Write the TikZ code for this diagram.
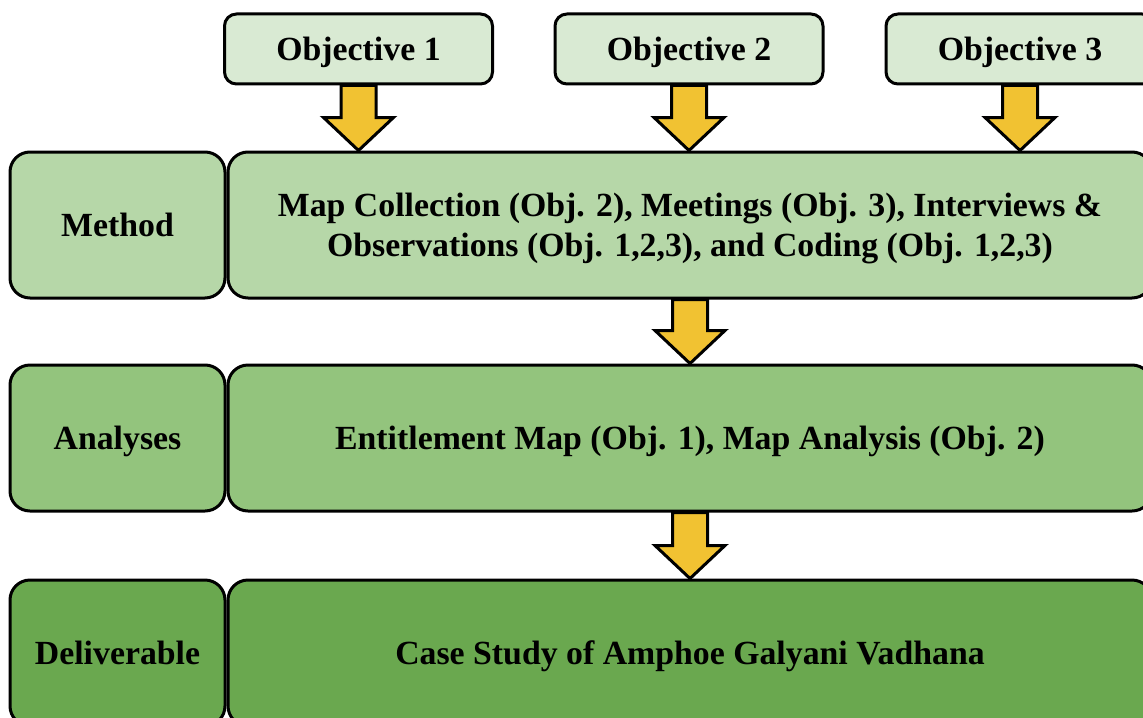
\documentclass[tikz,border=0pt]{standalone}
\usepackage{fontspec}
\setmainfont{Liberation Serif}
\usetikzlibrary{calc,backgrounds}

\definecolor{objgreen}{HTML}{D9EAD3}
\definecolor{methgreen}{HTML}{B6D7A8}
\definecolor{anagreen}{HTML}{93C47D}
\definecolor{delgreen}{HTML}{6AA84F}
\definecolor{arrowyellow}{HTML}{F1C232}

% fat yellow arrow from the bottom of #1 down to the top of #2
\newcommand{\blockarrow}[2]{%
\coordinate (tip) at (#1.south |- #2.north);
\draw[yarrow] ($(#1.south)+(-17.5,0)$) -- ($(tip)+(-17.5,-33)$) -- ++(-17.5,0) -- (tip)
  -- ++(35,-33) -- ++(-17.5,0) -- ($(#1.south)+(17.5,0)$) -- cycle;
}

\begin{document}
\begin{tikzpicture}[x=0.5pt,y=-0.5pt,
  font=\fontsize{16.9pt}{20pt}\selectfont\bfseries,
  box/.style={draw=black,line width=1.5pt,inner sep=0pt,align=center,text depth=0pt},
  objbox/.style={box,fill=objgreen,rounded corners=6pt,minimum width=134pt,minimum height=35pt},
  rowlabel/.style={box,rounded corners=10pt,minimum width=107.5pt,minimum height=73pt},
  rowbody/.style={box,rounded corners=10pt,minimum width=462pt,minimum height=73pt},
  yarrow/.style={fill=arrowyellow,draw=black,line width=1.5pt,line join=miter}]
\useasboundingbox (0,0) rectangle (1143,717);
\clip (0,0) rectangle (1143,717);

\node[objbox] (obj1) at (358.5,49) {Objective 1};
\node[objbox] (obj2) at (689,49) {Objective 2};
\node[objbox] (obj3) at (1020,49) {Objective 3};

\node[rowlabel,fill=methgreen] (method) at (117.5,225) {Method};
\node[rowbody,fill=methgreen] (methodtxt) at (690,225) {Map Collection (Obj. 2), Meetings (Obj. 3), Interviews \&\\Observations (Obj. 1,2,3), and Coding (Obj. 1,2,3)};

\node[rowlabel,fill=anagreen] (analyses) at (117.5,438) {Analyses};
\node[rowbody,fill=anagreen] (analysestxt) at (690,438) {Entitlement Map (Obj. 1), Map Analysis (Obj. 2)};

\node[rowlabel,fill=delgreen] (deliv) at (117.5,653) {Deliverable};
\node[rowbody,fill=delgreen] (delivtxt) at (690,653) {Case Study of Amphoe Galyani Vadhana};

\begin{scope}[on background layer]
\blockarrow{obj1}{methodtxt}
\blockarrow{obj2}{methodtxt}
\blockarrow{obj3}{methodtxt}
\blockarrow{methodtxt}{analysestxt}
\blockarrow{analysestxt}{delivtxt}
\end{scope}
\end{tikzpicture}
\end{document}
